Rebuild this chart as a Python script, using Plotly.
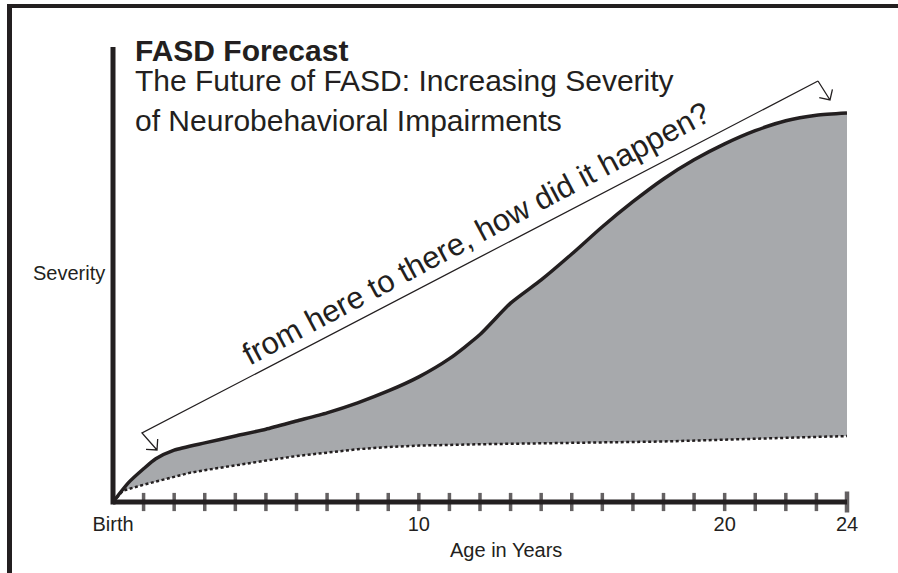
import plotly.graph_objects as go

# ---------------- data ----------------
age_solid = [0, 0.5, 1, 1.4, 2, 3, 4, 5, 6, 7, 8, 9, 10, 11, 12, 13,
             14, 15, 16, 17, 18, 19, 20, 21, 22, 23, 24]
sev_solid = [0, 4.2, 7.3, 9.5, 11.4, 13.0, 14.5, 16.0, 17.8, 19.6, 21.8, 24.4,
             27.5, 31.5, 36.8, 43.7, 48.8, 54.5, 60.5, 66.0, 71.0, 75.2, 78.7,
             81.6, 83.8, 85.0, 85.5]

age_dotted = [0, 0.33, 1, 2, 2.5, 3, 4, 4.7, 5, 6, 7, 8, 9, 10, 12, 14, 16, 18, 20, 22, 24]
sev_dotted = [0, 2.5, 3.8, 5.5, 6.4, 7.0, 8.1, 8.8, 9.1, 10.1, 10.9, 11.6, 12.1,
              12.4, 12.7, 12.9, 13.0, 13.3, 13.7, 14.1, 14.5]

tick_years = list(range(1, 25))
label_vals = [0, 10, 20, 24]
label_text = ["Birth", "10", "20", "24"]

title_text = "FASD Forecast"
subtitle_1 = "The Future of FASD: Increasing Severity"
subtitle_2 = "of Neurobehavioral Impairments"
callout_text = "from here to there, how did it happen?"

# ---------------- styling ----------------
INK = "#231f20"
FILL = "#a7a9ac"
FONT = "Liberation Sans, Arial, Helvetica, sans-serif"
W, H = 898, 573
ML, MR, MT, MB = 113, 51, 47, 71
XMAX, YMAX = 24, 100
PW, PH = W - ML - MR, H - MT - MB
XS, YS = PW / XMAX, PH / YMAX  # px per unit


def px2data(px, py):
    return (px - ML) / XS, (H - MB - py) / YS


def px2paper(px, py):
    return (px - ML) / PW, (H - MB - py) / PH


def arrow_path(corner, tip, start, barb=11, spread=45):
    import math
    sx, sy = start
    cx, cy = corner
    tx, ty = tip
    dx, dy = cx - tx, cy - ty
    ang = math.atan2(dy, dx)
    pts = []
    for s in (-spread, spread):
        a = ang + math.radians(s)
        pts.append((tx + barb * math.cos(a), ty + barb * math.sin(a)))
    def d(p):
        x, y = px2data(*p)
        return f"{x:.4f},{y:.4f}"
    return (f"M{d((sx, sy))} L{d((cx, cy))} L{d((tx, ty))} "
            f"M{d(pts[0])} L{d((tx, ty))} L{d(pts[1])}")


fig = go.Figure()

fig.add_trace(go.Scatter(
    x=age_dotted, y=sev_dotted, mode="lines",
    line=dict(color=INK, width=2.5, dash="3px,2.5px"),
    hoverinfo="skip", showlegend=False))
fig.add_trace(go.Scatter(
    x=age_solid, y=sev_solid, mode="lines", fill="tonexty", fillcolor=FILL,
    line=dict(color=INK, width=3.5, shape="spline", smoothing=0.6),
    hoverinfo="skip", showlegend=False))

# axis tick marks crossing the axis line
fig.add_trace(go.Scatter(
    x=tick_years, y=[0] * len(tick_years), mode="markers",
    marker=dict(symbol="line-ns", size=[13] * (len(tick_years) - 1) + [15],
                line=dict(color=INK, width=[3.5] * (len(tick_years) - 1) + [4.5])),
    cliponaxis=False, hoverinfo="skip", showlegend=False))

shapes = []
# axis lines
shapes.append(dict(type="line", xref="paper", yref="paper", x0=0, x1=1, y0=0, y1=0,
                   line=dict(color=INK, width=5), layer="above"))
shapes.append(dict(type="line", xref="paper", yref="paper", x0=0, x1=0,
                   y0=px2paper(0, H - MB + 2.5)[1], y1=1,
                   line=dict(color=INK, width=5), layer="above"))
# frame
fx0, fy_top = px2paper(7, 6)
fx1, _ = px2paper(W + 2, 6)
shapes.append(dict(type="line", xref="paper", yref="paper", x0=fx0, x1=fx1, y0=fy_top, y1=fy_top,
                   line=dict(color=INK, width=4), layer="above"))
lx, ly0 = px2paper(9.5, 4)
_, ly1 = px2paper(9.5, H + 2)
shapes.append(dict(type="line", xref="paper", yref="paper", x0=lx, x1=lx, y0=ly0, y1=ly1,
                   line=dict(color=INK, width=5), layer="above"))
# callout arrow (two ends joined by a long shaft)
shapes.append(dict(type="path", xref="x", yref="y",
                   path=arrow_path(corner=(142, 433), tip=(157, 450), start=(818, 81)),
                   line=dict(color=INK, width=1.3), layer="above"))
shapes.append(dict(type="path", xref="x", yref="y",
                   path=arrow_path(corner=(818, 81), tip=(830, 100), start=(818, 81)),
                   line=dict(color=INK, width=1.3), layer="above"))

annotations = []
def ann(text, px, py, size, bold=False, xanchor="left", angle=0, ref="paper"):
    if ref == "paper":
        x, y = px2paper(px, py)
        xr, yr = "paper", "paper"
    else:
        x, y = px2data(px, py)
        xr, yr = "x", "y"
    annotations.append(dict(
        text=f"<b>{text}</b>" if bold else text,
        x=x, y=y, xref=xr, yref=yr, xanchor=xanchor, yanchor="middle",
        showarrow=False, textangle=angle,
        font=dict(family=FONT, size=size, color=INK)))

ann(title_text, 133, 51, 30, bold=True)
ann(subtitle_1, 133, 81, 30)
ann(subtitle_2, 133, 120, 30)
ann("Severity", 69, 273, 20, xanchor="center")
ann("Age in Years", 506, 550, 20, xanchor="center")
ann(callout_text, 476, 233, 31, xanchor="center", angle=-28, ref="data")

fig.update_layout(
    width=W, height=H,
    margin=dict(l=ML, r=MR, t=MT, b=MB),
    paper_bgcolor="white", plot_bgcolor="white",
    shapes=shapes, annotations=annotations,
    xaxis=dict(range=[0, XMAX], showgrid=False, zeroline=False, showline=False,
               tickvals=label_vals, ticktext=label_text, ticks="",
               tickfont=dict(family=FONT, size=20, color=INK), ticklabelstandoff=8),
    yaxis=dict(range=[0, YMAX], showgrid=False, zeroline=False, showline=False,
               showticklabels=False, ticks=""),
)

fig.write_html("out.html", config={"displayModeBar": False},
               post_script="document.body.style.margin='0';")
